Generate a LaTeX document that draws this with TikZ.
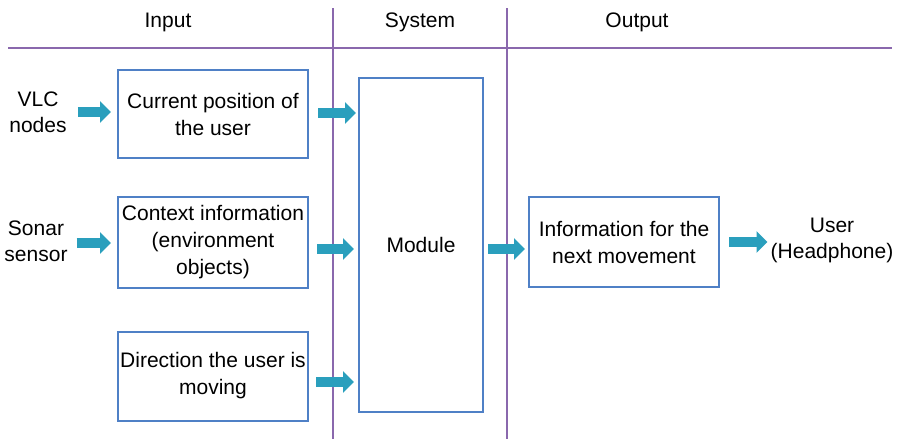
\documentclass[tikz,border=0pt]{standalone}
\usepackage{fontspec}
\setmainfont{Liberation Sans}
\usetikzlibrary{arrows.meta}
\definecolor{lanecol}{HTML}{8A68AD}
\definecolor{boxcol}{HTML}{4F80C6}
\definecolor{flowcol}{HTML}{2A9FBD}
\tikzset{
  lbl/.style={font=\fontsize{21}{26}\selectfont, align=center, inner sep=0pt},
  stepbox/.style={draw=boxcol, line width=2pt, fill=white, align=center,
    font=\fontsize{21}{27}\selectfont, inner sep=2pt},
  lane/.style={draw=lanecol, line width=2.4pt},
  flow/.style={draw=flowcol, line width=10pt, -{Triangle[width=21pt,length=11pt]}}
}
\begin{document}
\begin{tikzpicture}[x=1pt,y=-1pt]
\useasboundingbox (0,0) rectangle (899,439);

% swim-lane grid
\coordinate (hl) at (8,48);
\coordinate (hr) at (892,48);
\coordinate (v1t) at (333,8);
\coordinate (v1b) at (333,439);
\coordinate (v2t) at (507,8);
\coordinate (v2b) at (507,439);
\draw[lane] (hl) -- (hr);
\draw[lane] (v1t) -- (v1b);
\draw[lane] (v2t) -- (v2b);

% headers
\node[lbl] (hin)  at (168,22) {Input};
\node[lbl] (hsys) at (420,22) {System};
\node[lbl] (hout) at (637,22) {Output};

% sources and sink
\node[lbl] (vlc)   at (38,112) {VLC\\nodes};
\node[lbl] (sonar) at (36,241) {Sonar\\sensor};
\node[lbl] (user)  at (832,240) {User\\(Headphone)};

% boxes
\node[stepbox, minimum width=190pt, minimum height=88pt] (b1) at (213,114) {Current position of\\the user};
\node[stepbox, minimum width=190pt, minimum height=91pt] (b2) at (213,242) {Context information\\(environment\\objects)};
\node[stepbox, minimum width=190pt, minimum height=89pt] (b3) at (213,376) {Direction the user is\\moving};
\node[stepbox, minimum width=124pt, minimum height=334pt] (mod) at (421,245) {Module};
\node[stepbox, minimum width=190pt, minimum height=90pt] (info) at (624,242) {Information for the\\next movement};

% flows
\draw[flow, shorten <=11pt, shorten >=6pt] (vlc.east) -- (vlc.east -| b1.west);
\draw[flow, shorten <=9pt, shorten >=6pt] ([yshift=-2pt]sonar.east) -- ([yshift=-2pt]sonar.east -| b2.west);
\draw[flow, shorten <=9pt, shorten >=2pt] ([yshift=1pt]b1.east) -- ([yshift=1pt]b1.east -| mod.west);
\draw[flow, shorten <=8pt, shorten >=4pt] ([yshift=-7pt]b2.east) -- ([yshift=-7pt]b2.east -| mod.west);
\draw[flow, shorten <=7pt, shorten >=4pt] ([yshift=-6pt]b3.east) -- ([yshift=-6pt]b3.east -| mod.west);
\draw[flow, shorten <=4pt, shorten >=3pt] ([yshift=-4pt]mod.east) -- ([yshift=-4pt]mod.east -| info.west);
\draw[flow, shorten <=9pt, shorten >=3pt] (info.east) -- (info.east -| user.west);
\end{tikzpicture}
\end{document}
